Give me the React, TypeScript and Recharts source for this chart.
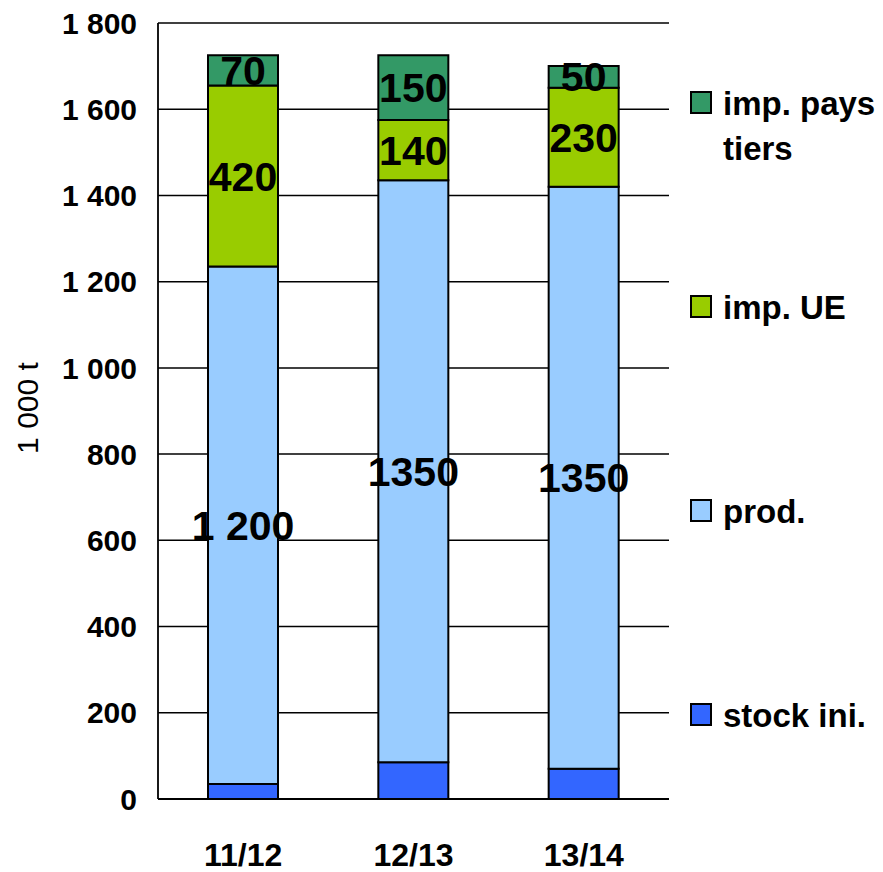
import React from "react";
import { BarChart, Bar, XAxis, YAxis, CartesianGrid, LabelList, Label } from "recharts";

// Values (1 000 t)
const categories = ["11/12", "12/13", "13/14"];
const stockIni = [35, 85, 70];
const prod = [1200, 1350, 1350];
const impUE = [420, 140, 230];
const impTiers = [70, 150, 50];
const prodLabels = ["1 200", "1350", "1350"];
const yTicks = [0, 200, 400, 600, 800, 1000, 1200, 1400, 1600, 1800];

const FONT = '"Liberation Sans", Arial, sans-serif';

const data = categories.map((cat, i) => ({
  cat,
  stock: stockIni[i],
  prod: prod[i],
  prodLabel: prodLabels[i],
  ue: impUE[i],
  tiers: impTiers[i],
}));

// legend, top to bottom
const legendItems = [
  { name: "imp. pays tiers", color: "#339966" },
  { name: "imp. UE", color: "#99CC00" },
  { name: "prod.", color: "#99CCFF" },
  { name: "stock ini.", color: "#3366FF" },
];

const formatTick = (v: number) =>
  v >= 1000 ? `${Math.floor(v / 1000)} ${String(v % 1000).padStart(3, "0")}` : String(v);

const labelStyle = {
  position: "center" as const,
  fill: "#000",
  fontSize: 41,
  fontWeight: "bold",
  fontFamily: FONT,
};

export default function App() {
  return (
    <div style={{ position: "absolute", left: 0, top: 0, width: 883, height: 872, background: "#fff" }}>
      <BarChart
        width={883}
        height={872}
        data={data}
        margin={{ top: 23, right: 214, bottom: 0, left: 0 }}
      >
        <CartesianGrid vertical={false} stroke="#000" strokeWidth={1.5} />
        <XAxis
          dataKey="cat"
          height={73}
          tickLine={false}
          tickSize={0}
          tickMargin={44}
          axisLine={{ stroke: "#000", strokeWidth: 1.8 }}
          tick={{ fontSize: 32, fontWeight: "bold", fill: "#000", fontFamily: FONT }}
        />
        <YAxis
          width={158}
          domain={[0, 1800]}
          ticks={yTicks}
          tickFormatter={formatTick}
          tickLine={false}
          tickSize={0}
          tickMargin={21}
          axisLine={{ stroke: "#000", strokeWidth: 1.8 }}
          tick={{ fontSize: 30, fontWeight: "bold", fill: "#000", fontFamily: FONT }}
        >
          <Label
            content={() => (
              <text
                x={38}
                y={408}
                transform="rotate(-90 38 408)"
                textAnchor="middle"
                fontSize={30}
                fontFamily={FONT}
                fill="#000"
              >
                1 000 t
              </text>
            )}
          />
        </YAxis>
        <Bar dataKey="stock" stackId="a" barSize={70} fill="#3366FF" stroke="#000" strokeWidth={2} isAnimationActive={false} />
        <Bar dataKey="prod" stackId="a" barSize={70} fill="#99CCFF" stroke="#000" strokeWidth={2} isAnimationActive={false}>
          <LabelList dataKey="prodLabel" {...labelStyle} />
        </Bar>
        <Bar dataKey="ue" stackId="a" barSize={70} fill="#99CC00" stroke="#000" strokeWidth={2} isAnimationActive={false}>
          <LabelList dataKey="ue" {...labelStyle} />
        </Bar>
        <Bar dataKey="tiers" stackId="a" barSize={70} fill="#339966" stroke="#000" strokeWidth={2} isAnimationActive={false}>
          <LabelList dataKey="tiers" {...labelStyle} />
        </Bar>
      </BarChart>

      {legendItems.map((item, i) => (
        <React.Fragment key={item.name}>
          <div
            style={{
              position: "absolute",
              left: 690,
              top: 81 + i * 204 + 10,
              width: 22,
              height: 23,
              boxSizing: "border-box",
              border: "2px solid #000",
              background: item.color,
            }}
          />
          <div
            style={{
              position: "absolute",
              left: 723,
              top: 81 + i * 204,
              width: 160,
              fontFamily: FONT,
              fontSize: 33,
              fontWeight: "bold",
              lineHeight: "45px",
              color: "#000",
            }}
          >
            {item.name}
          </div>
        </React.Fragment>
      ))}
    </div>
  );
}
